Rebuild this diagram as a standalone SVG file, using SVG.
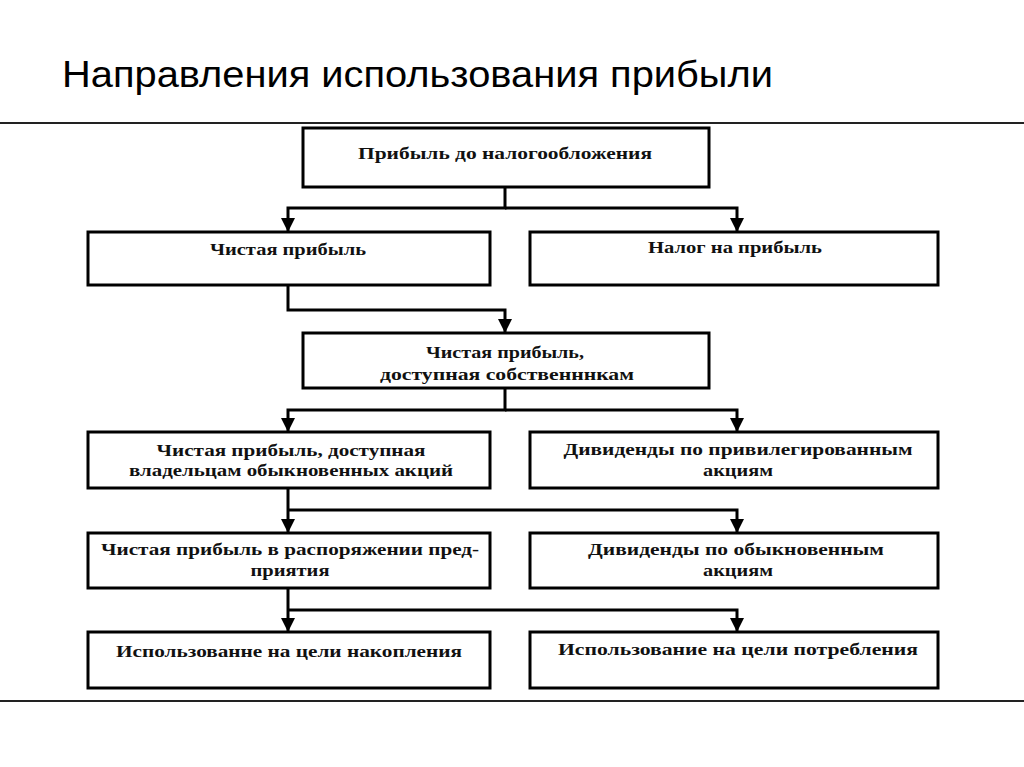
<svg xmlns="http://www.w3.org/2000/svg" width="1024" height="767" viewBox="0 0 1024 767">
<style>
.box{fill:#fff;stroke:#000;stroke-width:3}
.t{font-family:"Liberation Serif","DejaVu Serif",serif;font-weight:bold;font-size:16px;fill:#111;text-anchor:middle}
.c{fill:none;stroke:#000;stroke-width:3;stroke-linejoin:miter}
.rule{stroke:#222;stroke-width:2}
</style>
<defs>
<marker id="arr" markerUnits="userSpaceOnUse" markerWidth="14" markerHeight="14" refX="13" refY="7" orient="auto">
<path d="M0,0 L14,7 L0,14 z" fill="#000"/>
</marker>
</defs>
<rect width="1024" height="767" fill="#fff"/>
<text x="62" y="87" font-family="'Liberation Sans',Arial,sans-serif" font-size="37" fill="#000" textLength="711" lengthAdjust="spacingAndGlyphs">Направления использования прибыли</text>
<line class="rule" x1="0" y1="123" x2="1024" y2="123"/>
<line class="rule" x1="0" y1="701" x2="1024" y2="701"/>

<g id="connectors">
<path class="c" d="M505,187 V208 H288 V231" marker-end="url(#arr)"/>
<path class="c" d="M505,208 H737 V231" marker-end="url(#arr)"/>
<path class="c" d="M288,285 V310 H505 V332" marker-end="url(#arr)"/>
<path class="c" d="M505,388 V410 H288 V431" marker-end="url(#arr)"/>
<path class="c" d="M505,410 H737 V431" marker-end="url(#arr)"/>
<path class="c" d="M288,488 V532" marker-end="url(#arr)"/>
<path class="c" d="M288,510 H737 V532" marker-end="url(#arr)"/>
<path class="c" d="M288,588 V631" marker-end="url(#arr)"/>
<path class="c" d="M288,610 H737 V631" marker-end="url(#arr)"/>
</g>

<g id="n1">
<rect class="box" x="303" y="128" width="406" height="59"/>
<text class="t" x="505" y="159" textLength="294" lengthAdjust="spacingAndGlyphs">Прибыль до налогообложения</text>
</g>
<g id="n2">
<rect class="box" x="88" y="232" width="402" height="53"/>
<text class="t" x="288" y="255" textLength="156" lengthAdjust="spacingAndGlyphs">Чистая прибыль</text>
</g>
<g id="n3">
<rect class="box" x="530" y="232" width="408" height="53"/>
<text class="t" x="735" y="253" textLength="174" lengthAdjust="spacingAndGlyphs">Налог на прибыль</text>
</g>
<g id="n4">
<rect class="box" x="303" y="333" width="406" height="55"/>
<text class="t" x="505" y="358" textLength="158" lengthAdjust="spacingAndGlyphs">Чистая прибыль,</text>
<text class="t" x="507" y="380" textLength="254" lengthAdjust="spacingAndGlyphs">доступная собственннкам</text>
</g>
<g id="n5">
<rect class="box" x="88" y="432" width="402" height="56"/>
<text class="t" x="291" y="456" textLength="269" lengthAdjust="spacingAndGlyphs">Чистая прибыль, доступная</text>
<text class="t" x="291" y="476" textLength="324" lengthAdjust="spacingAndGlyphs">владельцам обыкновенных акций</text>
</g>
<g id="n6">
<rect class="box" x="530" y="432" width="408" height="56"/>
<text class="t" x="738" y="455" textLength="349" lengthAdjust="spacingAndGlyphs">Дивиденды по привилегированным</text>
<text class="t" x="738" y="476" textLength="70" lengthAdjust="spacingAndGlyphs">акциям</text>
</g>
<g id="n7">
<rect class="box" x="88" y="533" width="402" height="55"/>
<text class="t" x="290" y="555" textLength="378" lengthAdjust="spacingAndGlyphs">Чистая прибыль в распоряжении пред-</text>
<text class="t" x="290" y="576" textLength="79" lengthAdjust="spacingAndGlyphs">приятия</text>
</g>
<g id="n8">
<rect class="box" x="530" y="533" width="408" height="55"/>
<text class="t" x="736" y="555" textLength="296" lengthAdjust="spacingAndGlyphs">Дивиденды по обыкновенным</text>
<text class="t" x="738" y="576" textLength="70" lengthAdjust="spacingAndGlyphs">акциям</text>
</g>
<g id="n9">
<rect class="box" x="88" y="632" width="402" height="56"/>
<text class="t" x="289" y="657" textLength="346" lengthAdjust="spacingAndGlyphs">Использованне на цели накопления</text>
</g>
<g id="n10">
<rect class="box" x="530" y="632" width="408" height="56"/>
<text class="t" x="738" y="655" textLength="360" lengthAdjust="spacingAndGlyphs">Использование на цели потребления</text>
</g>
</svg>
